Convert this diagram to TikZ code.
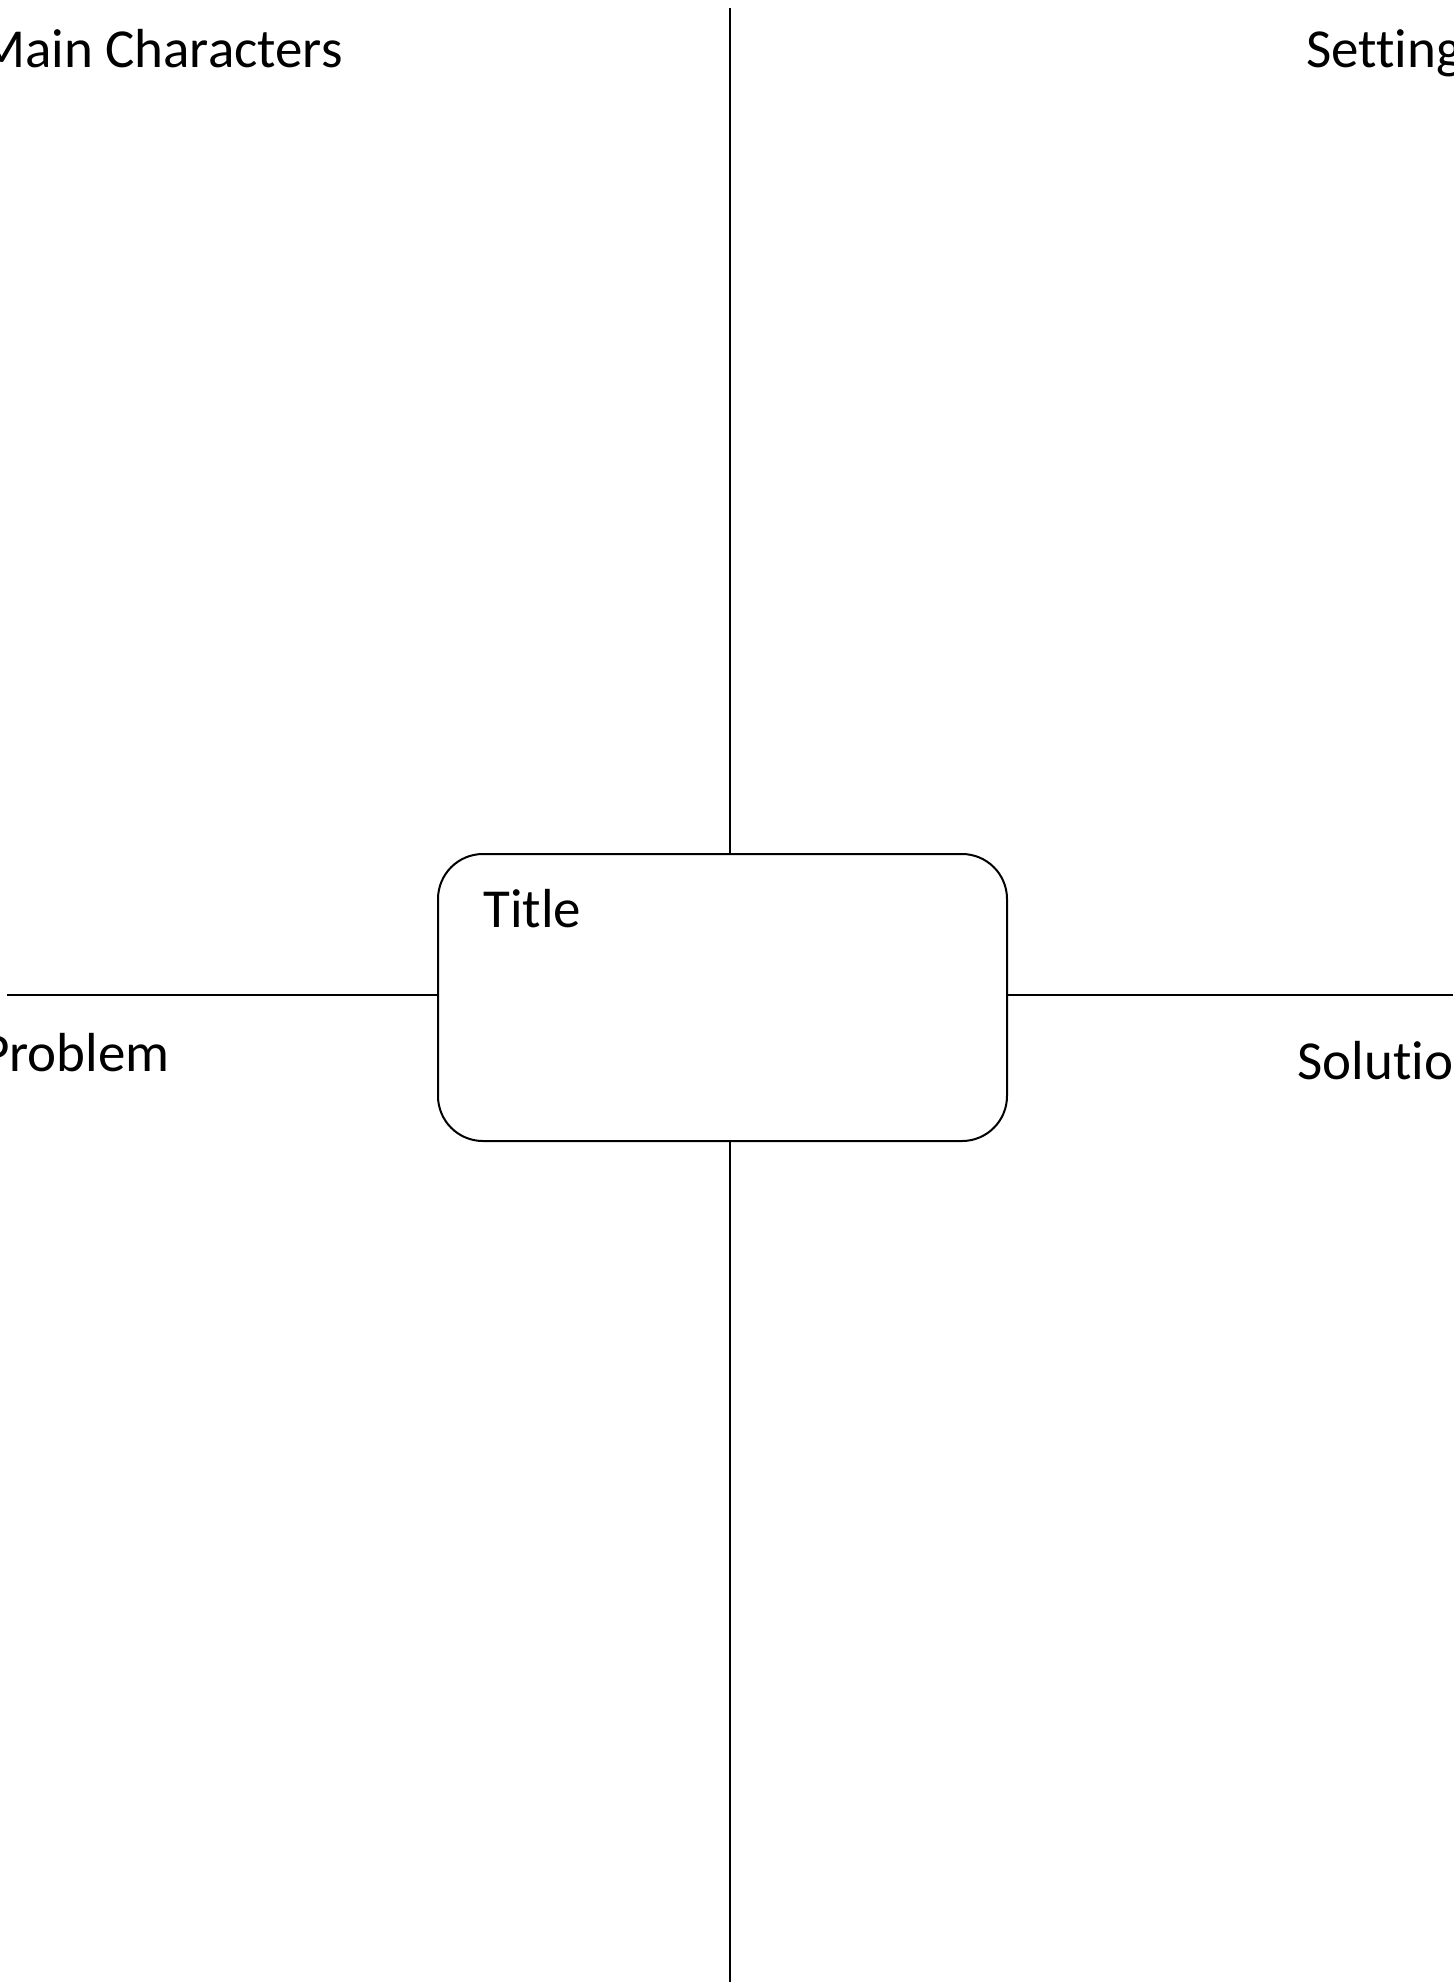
\documentclass[tikz,border=0pt]{standalone}
\usepackage{fontspec}
\setmainfont{Carlito}[Ligatures=NoCommon]
\usetikzlibrary{positioning}
\tikzset{
    card/.style={rectangle, draw=black, line width=1pt, rounded corners=22.5pt, minimum width=284.5pt, minimum height=143.5pt, inner sep=0pt},
    divider/.style={draw=black, line width=1pt},
    heading/.style={inner sep=0pt, font=\fontsize{27.5}{33}\selectfont}
}
\begin{document}
\begin{tikzpicture}[x=0.5pt, y=-0.5pt]
    \useasboundingbox (0,0) rectangle (1453,1986);

    % Title box
    \node[card] (Card) at (722.5,997.5) {};
    \node[heading, anchor=base west] (Title) at (483,927) {Title};

    % Dividers
    \coordinate (TopEnd) at (730,8);
    \coordinate (BottomEnd) at (730,1982);
    \coordinate (LeftEnd) at (7,995);
    \coordinate (RightEnd) at (1453,995);
    \draw[divider] (TopEnd) -- (TopEnd |- Card.north);
    \draw[divider] (Card.south -| BottomEnd) -- (BottomEnd);
    \draw[divider] (LeftEnd) -- (LeftEnd -| Card.west);
    \draw[divider] (Card.east |- RightEnd) -- (RightEnd);

    % Quadrant headings
    \node[heading, anchor=base east] (Characters) at (343,67) {Main Characters};
    \node[heading, anchor=base west] (Setting) at (1306,67) {Setting};
    \node[heading, anchor=base east] (Problem) at (170,1071) {Problem};
    \node[heading, anchor=base west] (Solution) at (1297,1079) {Solution};
\end{tikzpicture}
\end{document}
